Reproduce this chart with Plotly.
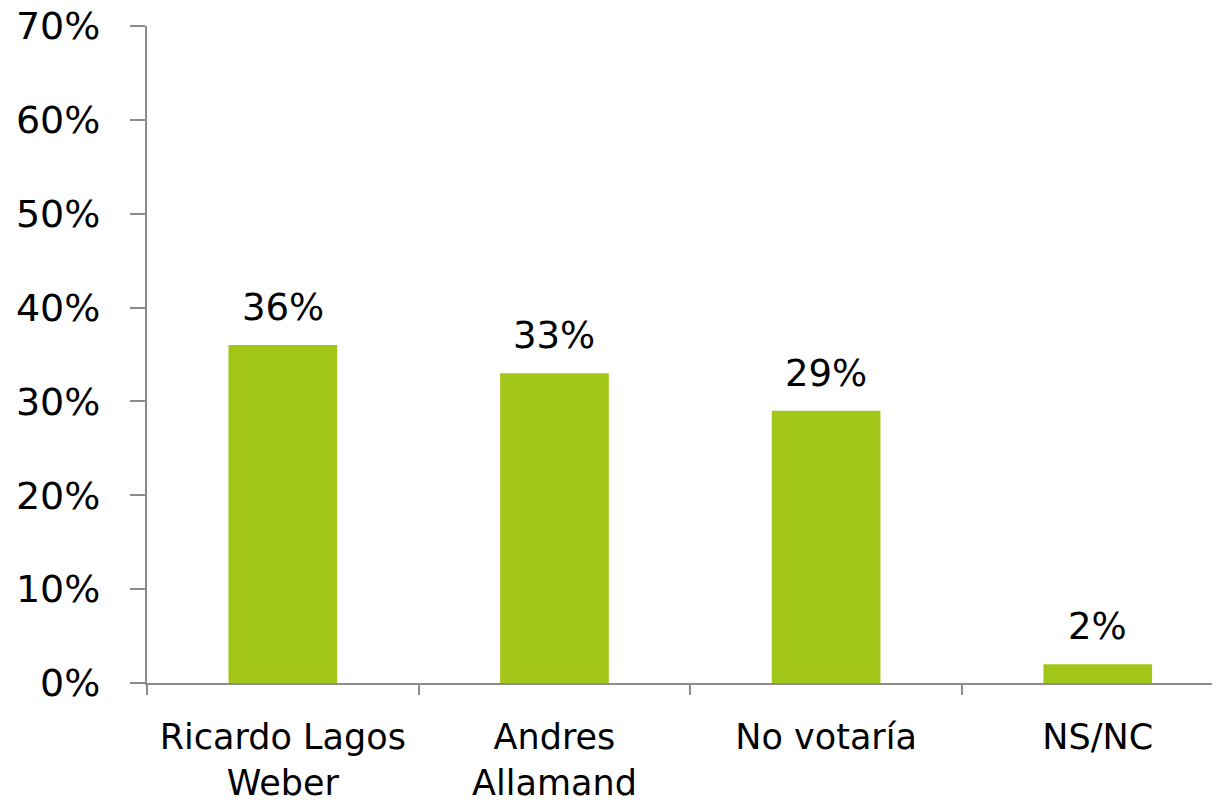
import plotly.graph_objects as go

categories = ["Ricardo Lagos<br>Weber", "Andres<br>Allamand", "No votaría", "NS/NC"]
values = [36, 33, 29, 2]
labels = ["36%", "33%", "29%", "2%"]
y_ticks = [0, 10, 20, 30, 40, 50, 60, 70]
y_ticktext = ["0%", "10%", "20%", "30%", "40%", "50%", "60%", "70%"]

font_family = "'DejaVu Sans', sans-serif"

fig = go.Figure(go.Bar(
    x=categories, y=values,
    marker=dict(color="#A2C617", line=dict(width=0)),
    width=0.4,
))

for c, v, t in zip(categories, values, labels):
    fig.add_annotation(
        x=c, y=v, text=t, showarrow=False, yanchor="bottom", yshift=14,
        font=dict(size=37, color="#000000", family=font_family),
    )

fig.update_layout(
    width=1212, height=795,
    margin=dict(l=139, r=0, t=18, b=120),
    paper_bgcolor="white", plot_bgcolor="white",
    showlegend=False,
    font=dict(family=font_family, color="#000000"),
)
fig.update_xaxes(
    type="category", range=[-0.5, 3.45], automargin=False,
    tickson="boundaries", ticks="outside", ticklen=10, tickwidth=2, tickcolor="#8c8c8c",
    showline=True, linecolor="#8c8c8c", linewidth=2,
    tickfont=dict(size=35, color="#000000"), ticklabelstandoff=22,
    showgrid=False, zeroline=False,
)
fig.update_yaxes(
    range=[0, 70], tickvals=y_ticks, ticktext=y_ticktext, automargin=False,
    ticks="outside", ticklen=15, tickwidth=2, tickcolor="#8c8c8c",
    showline=True, linecolor="#8c8c8c", linewidth=2,
    tickfont=dict(size=38, color="#000000"), ticklabelstandoff=22,
    ticklabeloverflow="allow",
    showgrid=False, zeroline=False,
)

fig.write_html("out.html")
